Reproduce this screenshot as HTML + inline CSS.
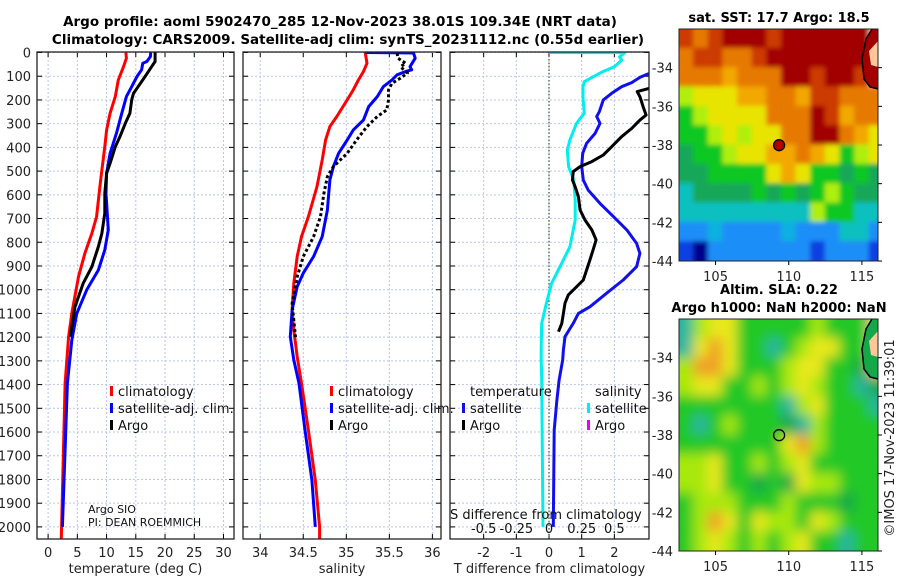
<!DOCTYPE html>
<html><head><meta charset="utf-8">
<style>
html,body{margin:0;padding:0;background:#fff;}
svg{display:block;font-family:"DejaVu Sans","Liberation Sans",sans-serif;}
</style></head>
<body>
<svg id="c" width="900" height="580" viewBox="0 0 900 580" xmlns="http://www.w3.org/2000/svg">
<text x="340" y="26" text-anchor="middle" font-size="13.5" font-weight="bold">Argo profile: aoml 5902470_285 12-Nov-2023 38.01S 109.34E (NRT data)</text>
<text x="348" y="44" text-anchor="middle" font-size="13.5" font-weight="bold">Climatology: CARS2009. Satellite-adj clim: synTS_20231112.nc (0.55d earlier)</text>
<g id="plots"></g>
</svg>
<script>
// ---------- DATA ----------
const depthTicks=[0,100,200,300,400,500,600,700,800,900,1000,1100,1200,1300,1400,1500,1600,1700,1800,1900,2000];
const tTicks=[0,5,10,15,20,25,30];
const sTicks=[34,34.5,35,35.5,36];
const dTTicks=[-2,-1,0,1,2];
const dSTicks=[-0.5,-0.25,0,0.25,0.5];
const dSTickLabels=["-0.5","-0.25","0","0.25","0.5"];

const climTdep=[0,24,60,116,186,256,327,397,495,580,692,762,846,945,1100,1198,1395,2000,2050];
const climT=[13.3,13.4,12.9,12.0,11.5,10.6,10.0,9.7,9.2,8.8,8.3,7.5,6.3,5.2,4.05,3.5,2.9,2.3,2.25];
const satTdep=[0,17,38,45,73,101,144,186,256,340,425,509,594,748,832,917,1001,1100,1213,1395,2000];
const satT=[17.55,17.5,16.9,16.2,16.0,15.2,14.3,13.4,12.6,11.7,10.6,10.0,9.9,10.3,9.7,8.6,6.6,4.9,4.05,3.3,2.45];
const argoTdep=[0,38,60,101,144,172,200,256,299,354,397,467,509,594,678,762,818,903,973,1072,1198];
const argoT=[18.3,18.3,17.7,16.6,15.4,14.6,14.3,14.0,13.2,12.3,11.5,10.6,10.0,9.7,9.7,9.2,8.6,7.5,6.0,4.6,3.8];

const climSdep=[0,45,80,116,158,200,270,312,369,453,565,692,776,860,973,1086,1170,1283,1395,1592,1803,2000,2050];
const climS=[35.22,35.24,35.20,35.14,35.08,35.01,34.89,34.81,34.76,34.72,34.66,34.56,34.48,34.43,34.39,34.37,34.39,34.43,34.48,34.56,34.64,34.69,34.69];
const satSdep=[0,2,24,60,73,80,94,116,144,186,228,284,327,369,425,481,537,622,664,776,860,930,987,1086,1198,1296,1395,1592,1803,2000];
const satS=[35.22,35.78,35.80,35.74,35.76,35.69,35.59,35.53,35.43,35.36,35.26,35.20,35.08,35.01,34.91,34.85,34.81,34.79,34.78,34.72,34.62,34.50,34.43,34.37,34.35,34.39,34.45,34.52,34.60,34.64];
const argoSdep=[2,24,45,60,87,108,130,158,200,242,270,312,369,425,481,523,594,692,776,860,945,1058,1128,1200];
const argoS=[35.59,35.60,35.69,35.63,35.71,35.63,35.53,35.49,35.49,35.47,35.36,35.24,35.12,35.01,34.85,34.78,34.74,34.70,34.62,34.50,34.43,34.37,34.39,34.41];

const satDTdep=[85,91,105,127,144,172,200,250,270,299,341,383,425,481,538,580,636,692,748,805,847,903,959,1015,1072,1100,1142,1198,1254,1296,1381,1465,1592,2000];
const satDT=[3.2,3.01,2.78,2.53,2.22,1.92,1.66,1.54,1.46,1.56,1.41,1.15,1.03,1.0,1.05,1.2,1.56,1.97,2.38,2.68,2.78,2.68,2.27,1.76,1.25,0.9,0.74,0.49,0.44,0.42,0.31,0.24,0.16,0.13];
const argoDTdep=[150,165,186,228,264,285,320,355,397,432,460,481,502,538,566,608,664,706,748,790,832,875,917,959,987,1022,1057,1100,1142,1177];
const argoDT=[3.1,2.70,2.78,2.88,2.97,2.78,2.53,2.22,1.92,1.66,1.31,0.95,0.74,0.72,0.80,0.90,0.95,1.10,1.31,1.44,1.35,1.25,1.15,1.05,0.85,0.59,0.49,0.44,0.39,0.29];
const satDSdep=[0,0.5,18,32,60,81,102,123,144,193,256,299,369,411,481,538,622,706,819,903,973,1057,1142,1240,1296,1381,2000];
const satDS=[0,0.58,0.54,0.556,0.50,0.41,0.34,0.27,0.26,0.26,0.27,0.21,0.16,0.14,0.15,0.19,0.2,0.2,0.16,0.084,0.02,-0.02,-0.056,-0.06,-0.06,-0.056,-0.046];

// SST / SLA maps (coarse 1-degree cells, lon 102.5.., lat -32..-44)
const sstRows=["RORDDDRDDDDDDL","ORROORDDDDDDDL","OOOoOOODDRDDRL","yYYYooOOoRROOO","GyYYYYOOODRoOO","GGyYyYYOODDOoY","gGGyYYooOoYGyY","ggGGGGYoYGGgGg","CggggGgGgGyGgg","CCCCCCCCCyGGCC","BBcBBBBcBBBCCB","bNBBBBBBBbBBBb"];
const slaRows=["CyYYGGGGGyGGGL","CYOYGGCGyYYGGL","yOOYGGGyYYGGgL","yYYGGyGyYyGGCg","GGGGGGGCyYGGGC","GCGyGGGgCyGGGG","GGGGGGGYOyGGGG","yyYGGyGyYGGGGG","yyYGGgGgYyyGGG","GyyyGGGyGGGgGG","GyOYGYyyGYyGGG","GyYyGyGyYGGCGG"];
const latTicks=[-34,-36,-38,-40,-42,-44];
const lonTicks=[105,110,115];
const floatLon=109.34, floatLat=-38.01;

// ---------- DRAW ----------
const NS='http://www.w3.org/2000/svg';
const root=document.getElementById('plots');
function mk(tag,attrs,parent){const e=document.createElementNS(NS,tag);for(const k in attrs)e.setAttribute(k,attrs[k]);(parent||root).appendChild(e);return e;}
const Y0=52.5,KY=0.2372;
function yD(d){return Y0+d*KY;}
const PT=539;

function panel(name,x0,x1,xmin,xmax,ticks,labels,xtitle,showY){
  const sx=v=>x0+(v-xmin)/(xmax-xmin)*(x1-x0);
  const g=mk('g',{});
  
  
  ticks.forEach((t,i)=>{
    const l=mk('line',{x1:sx(t),x2:sx(t),y1:52,y2:PT,stroke:'#b9c3ec','stroke-width':1,'stroke-dasharray':'2,2'},g);
    
    
    mk('line',{x1:sx(t),x2:sx(t),y1:PT,y2:PT-5,stroke:'#000'},g);
    mk('line',{x1:sx(t),x2:sx(t),y1:52,y2:57,stroke:'#000'},g);
    const tx=mk('text',{x:sx(t),y:557,'text-anchor':'middle','font-size':13,fill:'#222'},g);
    tx.textContent=labels[i];
    
    
  });
  depthTicks.forEach(d=>{
    const l=mk('line',{x1:x0,x2:x1,y1:yD(d),y2:yD(d),stroke:'#b9c3ec','stroke-width':1,'stroke-dasharray':'2,2'},g);
    
    
    mk('line',{x1:x0,x2:x0+5,y1:yD(d),y2:yD(d),stroke:'#000'},g);
    mk('line',{x1:x1-5,x2:x1,y1:yD(d),y2:yD(d),stroke:'#000'},g);
    if(showY){const tx=mk('text',{x:31,y:yD(d)+5,'text-anchor':'end','font-size':13,fill:'#222'},g);tx.textContent=d;
      
      }
  });
  const t=mk('text',{x:(x0+x1)/2,y:573,'text-anchor':'middle','font-size':13,fill:'#222'},g);
  t.textContent=xtitle;
  
  
  return {g,sx,x0,x1};
}
function series(p,vals,deps,color,name,dash,xf){
  const cp='clip'+name;
  const cl=mk('clipPath',{id:cp},p.g);mk('rect',{x:p.x0,y:52,width:p.x1-p.x0,height:PT-52},cl);
  const pts=vals.map((v,i)=>(xf?xf(v):p.sx(v)).toFixed(1)+','+yD(deps[i]).toFixed(1)).join(' ');
  const a={points:pts,fill:'none',stroke:color,'stroke-width':3,'stroke-linejoin':'round','clip-path':'url(#'+cp+')'};
  if(dash)a['stroke-dasharray']=dash;
  const e=mk('polyline',a,p.g);
  
  
}
function frame(p){mk('rect',{x:p.x0,y:52,width:p.x1-p.x0,height:PT-52,fill:'none',stroke:'#222','stroke-width':1.3},p.g);}
function legendEntry(g,x,y,color,label){
  mk('rect',{x:x,y:y-10,width:3,height:10,fill:color},g);
  const t=mk('text',{x:x+8,y:y,'font-size':13,fill:'#111'},g);t.textContent=label;
  
  
}

// Panel 1 temperature
const p1=panel('temperature-panel',37,234,-1.9,31.8,tTicks,tTicks.map(String),'temperature (deg C)',true);
series(p1,climT,climTdep,'#f00','climatology-temperature-line');
series(p1,satT,satTdep,'#00f','satellite-adj-temperature-line');
series(p1,argoT,argoTdep,'#000','argo-temperature-line');
legendEntry(p1.g,110,396,'#f00','climatology');
legendEntry(p1.g,110,413,'#00f','satellite-adj. clim.');
legendEntry(p1.g,110,430,'#000','Argo');
let t1=mk('text',{x:88,y:513,'font-size':11,fill:'#111'},p1.g);t1.textContent='Argo SIO';


let t2=mk('text',{x:88,y:526,'font-size':11,fill:'#111'},p1.g);t2.textContent='PI: DEAN ROEMMICH';


frame(p1);

// Panel 2 salinity
const p2=panel('salinity-panel',243,441,33.8,36.1,sTicks,["34","34.5","35","35.5","36"],'salinity',false);
series(p2,climS,climSdep,'#f00','climatology-salinity-line');
series(p2,satS,satSdep,'#00f','satellite-adj-salinity-line');
series(p2,argoS,argoSdep,'#000','argo-salinity-line','3,2.5');
legendEntry(p2.g,330,396,'#f00','climatology');
legendEntry(p2.g,330,413,'#00f','satellite-adj. clim.');
legendEntry(p2.g,330,430,'#000','Argo');
frame(p2);

// Panel 3 differences
const p3=panel('difference-panel',450,649,-3.03,3.06,dTTicks,dTTicks.map(String),'T difference from climatology',false);
const sxS=v=>p3.sx(v*4);
const z=mk('line',{x1:p3.sx(0),x2:p3.sx(0),y1:52,y2:PT,stroke:'#335533','stroke-width':1.2,'stroke-dasharray':'1.5,2'},p3.g);


series(p3,satDS,satDSdep,'#00eeee','satellite-salinity-difference-line',null,sxS);
series(p3,satDT,satDTdep,'#1010ee','satellite-temperature-difference-line');
series(p3,argoDT,argoDTdep,'#000','argo-temperature-difference-line');
let lt=mk('text',{x:470,y:396,'font-size':13,fill:'#111'},p3.g);lt.textContent='temperature';


let ls=mk('text',{x:595,y:396,'font-size':13,fill:'#111'},p3.g);ls.textContent='salinity';


legendEntry(p3.g,462,413,'#1010ee','satellite');
legendEntry(p3.g,462,430,'#000','Argo');
legendEntry(p3.g,587,413,'#00eeee','satellite');
legendEntry(p3.g,587,430,'#ee00ee','Argo');
let sd=mk('text',{x:450,y:519,'font-size':13,fill:'#111'},p3.g);sd.textContent='S difference from climatology';


dSTicks.forEach((v,i)=>{const t=mk('text',{x:sxS(v),y:533,'text-anchor':'middle','font-size':13,fill:'#111'},p3.g);t.textContent=dSTickLabels[i];
  
  });
frame(p3);

// Maps
const MX0=679,MX1=878,LON0=102.5,LON1=116.1;
const mlon=v=>MX0+(v-LON0)/(LON1-LON0)*(MX1-MX0);
const sstPal={D:'#a20000',R:'#cc3a00',O:'#e67a00',o:'#f2a800',Y:'#e8e400',y:'#b0ee10',G:'#10c820',g:'#18a858',C:'#10c0c0',c:'#10b0e0',B:'#1e8ef8',b:'#0a40e0',N:'#000090',L:'#ffc89a'};
const slaPal={G:'#22c828',g:'#14a848',y:'#a8e810',Y:'#e8e81a',O:'#f0a028',C:'#28b4a0',L:'#ffc89a'};
function map(name,top,rows,pal,blur,dotFill,title1,title2){
  const bot=top+232;
  const mlat=v=>top+(-32-v)/12*(bot-top);
  const g=mk('g',{});
  
  
  const cid='mc'+name;
  const cl=mk('clipPath',{id:cid},g);mk('rect',{x:MX0,y:top,width:MX1-MX0,height:bot-top},cl);
  const cg=mk('g',{'clip-path':'url(#'+cid+')'},g);
  const f=mk('filter',{id:'bl'+name,x:'-10%',y:'-10%',width:'120%',height:'120%'},g);
  mk('feGaussianBlur',{stdDeviation:blur,result:'b'},f);
  const ct=mk('feComponentTransfer',{},f);mk('feFuncA',{type:'table',tableValues:'1 1'},ct);
  const inner=mk('g',{filter:'url(#bl'+name+')'},cg);
  rows.forEach((r,ri)=>{[...r].forEach((ch,ci)=>{
    mk('rect',{x:mlon(LON0+ci)-0.5,y:mlat(-32-ri)-0.5,width:(MX1-MX0)/(LON1-LON0)+1,height:19.4,fill:pal[ch]},inner);
  });});
  // land & coastline
  const coast='M872,'+top+' L866,'+(top+10)+' L862,'+(top+30)+' L864,'+(top+50)+' L870,'+(top+58)+' L878,'+(top+60);
  mk('path',{d:coast+' L878,'+top+' Z',fill:blur>3?'#14a848':'#a20000'},cg);
  mk('path',{d:'M878,'+(top+12)+' L869,'+(top+22)+' L871,'+(top+36)+' L878,'+(top+38)+' Z',fill:'#ffc89a'},cg);
  const cst=mk('path',{d:coast,fill:'none',stroke:'#000','stroke-width':1.5},cg);
  
  
  const dot=mk('circle',{cx:mlon(floatLon),cy:mlat(floatLat),r:5.5,fill:dotFill,stroke:'#000','stroke-width':1.3},g);
  
  
  mk('rect',{x:MX0,y:top,width:MX1-MX0,height:bot-top,fill:'none',stroke:'#222','stroke-width':1},g);
  latTicks.forEach(v=>{mk('line',{x1:MX1,x2:MX1+4,y1:mlat(v),y2:mlat(v),stroke:'#000'},g);
    const t=mk('text',{x:673,y:mlat(v)+5,'text-anchor':'end','font-size':13,fill:'#222'},g);t.textContent=v;
    
    });
  lonTicks.forEach(v=>{mk('line',{x1:mlon(v),x2:mlon(v),y1:bot,y2:bot+4,stroke:'#000'},g);
    const t=mk('text',{x:mlon(v),y:bot+20,'text-anchor':'middle','font-size':13,fill:'#222'},g);t.textContent=v;
    
    });
  if(title2){const a=mk('text',{x:779,y:top-25,'text-anchor':'middle','font-size':13,'font-weight':'bold'},g);a.textContent=title1;
    
    
    const b=mk('text',{x:779,y:top-7,'text-anchor':'middle','font-size':13,'font-weight':'bold'},g);b.textContent=title2;
    
    }
  else{const a=mk('text',{x:779,y:top-7,'text-anchor':'middle','font-size':13,'font-weight':'bold'},g);a.textContent=title1;
    
    }
}
map('sst-map',29,sstRows,sstPal,2.5,'#b00000','sat. SST: 17.7 Argo: 18.5');
map('sla-map',319,slaRows,slaPal,6,'none','Altim. SLA: 0.22','Argo h1000: NaN h2000: NaN');
const cr=mk('text',{x:0,y:0,'font-size':13,fill:'#222','text-anchor':'middle',transform:'translate(894,438) rotate(-90)'});
cr.textContent='©IMOS 17-Nov-2023 11:39:01';


</script>
</body></html>
